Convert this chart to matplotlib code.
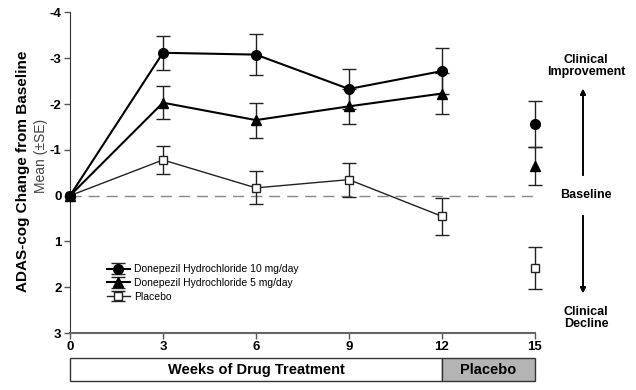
import numpy as np
import matplotlib
matplotlib.use("Agg")
import matplotlib.pyplot as plt
from matplotlib.patches import Rectangle

plt.rcParams['font.family'] = ['Liberation Sans', 'DejaVu Sans']

# data (negative change = improvement)
weeks = [0, 3, 6, 9, 12]
week_off = 15
dose10 = [0, -3.12, -3.08, -2.33, -2.72]
dose10_se = [0, 0.37, 0.45, 0.43, 0.50]
dose10_off, dose10_off_se = -1.56, 0.50
dose5 = [0, -2.03, -1.65, -1.95, -2.23]
dose5_se = [0, 0.36, 0.38, 0.38, 0.45]
dose5_off, dose5_off_se = -0.65, 0.41
placebo = [0, -0.78, -0.17, -0.35, 0.45]
placebo_se = [0, 0.30, 0.36, 0.37, 0.40]
placebo_off, placebo_off_se = 1.58, 0.46

xticks = [0, 3, 6, 9, 12, 15]
yticks = [-4, -3, -2, -1, 0, 1, 2, 3]
ytick_labels = ['-4', '-3', '-2', '-1', '0', '1', '2', '3']

fig = plt.figure(figsize=(6.36, 3.9), dpi=100)
ax = fig.add_axes([0.110, 0.146, 0.731, 0.822])

series = [
    (dose10, dose10_se, dose10_off, dose10_off_se, 'o', 'black', 'black', 1.5, 7,
     'Donepezil Hydrochloride 10 mg/day'),
    (dose5, dose5_se, dose5_off, dose5_off_se, '^', 'black', 'black', 1.5, 7,
     'Donepezil Hydrochloride 5 mg/day'),
    (placebo, placebo_se, placebo_off, placebo_off_se, 's', '#222222', 'white', 1.0, 6,
     'Placebo'),
]

handles = []
for vals, se, off, off_se, mk, col, fc, lw, ms, lab in series:
    h = ax.errorbar(weeks, vals, yerr=se, errorevery=(1, 1), color=col, lw=lw,
                    marker=mk, ms=ms, mfc=fc, mec=col, capsize=5, elinewidth=1.0,
                    capthick=1.0, ecolor='#222222', label=lab, clip_on=False, zorder=3)
    handles.append(h)
    ax.errorbar([week_off], [off], yerr=[off_se], fmt=mk, color=col, ms=ms, mfc=fc,
                mec=col, capsize=5, elinewidth=1.0, capthick=1.0, ecolor='#222222',
                clip_on=False, zorder=3)
# start point drawn on top
ax.plot([0], [0], 'o', color='black', ms=7, clip_on=False, zorder=4)

ax.axhline(0, color='#888888', lw=1.0, ls=(0, (8, 5)), zorder=1)

ax.set_xlim(0, 15)
ax.set_ylim(3, -4)
ax.set_xticks(xticks)
ax.set_yticks(yticks)
ax.set_yticklabels(ytick_labels)
for t in ax.get_xticklabels() + ax.get_yticklabels():
    t.set_fontweight('bold')
    t.set_fontsize(9.5)
ax.tick_params(axis='both', length=4, width=1, color='#555555', pad=2)
ax.spines['top'].set_visible(False)
ax.spines['right'].set_visible(False)
ax.spines['left'].set_color('#333333')
ax.spines['bottom'].set_color('#666666')
ax.spines['bottom'].set_linewidth(1.5)

leg = ax.legend(handles=handles, loc='lower left', bbox_to_anchor=(0.07, 0.085),
                frameon=False, fontsize=7.5, handlelength=2.2, handletextpad=0.4,
                labelspacing=0.35, borderaxespad=0)

fig.text(0.036, 0.56, 'ADAS-cog Change from Baseline', rotation=90, ha='center',
         va='center', fontsize=11, fontweight='bold')
fig.text(0.064, 0.60, 'Mean (\u00b1SE)', rotation=90, ha='center', va='center',
         fontsize=10, color='#444444')

# right-hand annotations
xr = 586 / 636
fig.text(xr, 1 - 66 / 390, 'Clinical\nImprovement', ha='center', va='center',
         fontsize=9, fontweight='bold', linespacing=1.1)
fig.text(xr, 1 - 195 / 390, 'Baseline', ha='center', va='center',
         fontsize=9, fontweight='bold')
fig.text(xr, 1 - 318 / 390, 'Clinical\nDecline', ha='center', va='center',
         fontsize=9, fontweight='bold', linespacing=1.1)
fig.add_artist(plt.annotate('', xy=(583 / 636, 1 - 86 / 390), xytext=(583 / 636, 1 - 178 / 390),
                            xycoords='figure fraction',
                            arrowprops=dict(arrowstyle='-|>', color='black', lw=1.2,
                                            mutation_scale=8)))
fig.add_artist(plt.annotate('', xy=(583 / 636, 1 - 296 / 390), xytext=(583 / 636, 1 - 213 / 390),
                            xycoords='figure fraction',
                            arrowprops=dict(arrowstyle='-|>', color='black', lw=1.2,
                                            mutation_scale=8)))

# treatment phase bar below the axis
bx = fig.add_axes([0.110, 0.023, 0.731, 0.059])
bx.set_xlim(0, 15)
bx.set_ylim(0, 1)
bx.axis('off')
bx.add_patch(Rectangle((0, 0), 12, 1, facecolor='white', edgecolor='#333333', lw=1.0,
                       clip_on=False))
bx.add_patch(Rectangle((12, 0), 3, 1, facecolor='#b4b4b4', edgecolor='#333333', lw=1.0,
                       clip_on=False))
bx.text(6, 0.47, 'Weeks of Drug Treatment', ha='center', va='center', fontsize=10.5,
        fontweight='bold')
bx.text(13.5, 0.47, 'Placebo', ha='center', va='center', fontsize=10.5, fontweight='bold')

fig.savefig('out.png', dpi=100)
